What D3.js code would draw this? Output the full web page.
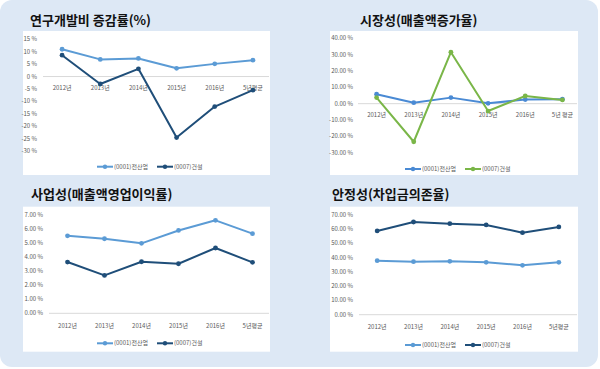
<!DOCTYPE html>
<html>
<head>
<meta charset="utf-8">
<script src="https://cdn.jsdelivr.net/npm/d3@7"></script>
<style>
  body { margin: 0; background: #fff; }
  svg { display: block; }
  text { font-family: "Noto Sans CJK KR", "Noto Sans", sans-serif; }
</style>
</head>
<body>
<div id="chart"></div>
<script>
// 데이터
const years = ['2012년', '2013년', '2014년', '2015년', '2016년', '5년평균'];
const years2 = ['2012년', '2013년', '2014년', '2015년', '2016년', '5년 평균'];
const seriesNames = ['(0001)전산업', '(0007)건설'];

const rndAll = [11.0, 6.9, 7.3, 3.3, 5.1, 6.6];
const rndConst = [8.6, -3.0, 3.1, -24.6, -12.1, -5.5];

const salesAll = [5.8, 0.6, 3.7, 0.2, 2.5, 2.7];
const salesConst = [3.7, -23.3, 31.5, -4.5, 4.7, 2.3];

const opAll = [5.52, 5.31, 4.98, 5.9, 6.62, 5.67];
const opConst = [3.65, 2.7, 3.67, 3.53, 4.65, 3.63];

const debtAll = [37.9, 37.2, 37.5, 36.8, 34.7, 36.8];
const debtConst = [58.8, 65.1, 63.9, 63.0, 57.6, 61.6];

const ticks1 = [15, 10, 5, 0, -5, -10, -15, -20, -25, -30];
const ticks2 = [40, 30, 20, 10, 0, -10, -20, -30];
const ticks3 = [7, 6, 5, 4, 3, 2, 1, 0];
const ticks4 = [70, 60, 50, 40, 30, 20, 10, 0];

const lightBlue = '#5b9bd5';
const navy = '#1f4e79';
const midBlue = '#4a8ad4';
const green = '#7ab648';

const W = 600, H = 369;
const svg = d3.select('#chart').append('svg').attr('width', W).attr('height', H);

// 배경 패널
svg.append('rect')
    .attr('x', 0).attr('y', 0).attr('width', 598).attr('height', 367)
    .attr('rx', 12).attr('fill', '#dde8f5');

const charts = [
    {
        title: '연구개발비 증감률(%)', titleX: 30, titleY: 25,
        box: [23, 31, 270, 175],
        cats: years, values: [rndAll, rndConst], colors: [lightBlue, navy],
        domain: [-30, 15], yRange: [151, 39.3], ticks: ticks1, fmt: d => d + ' %',
        xRange: [43, 272], labelX: 37, catY: 90, catAtZero: true, legendY: 166.7, legendX: 150
    },
    {
        title: '시장성(매출액증가율)', titleX: 360, titleY: 25,
        box: [330, 31, 578, 175],
        cats: years2, values: [salesAll, salesConst], colors: [midBlue, green],
        domain: [-30, 40], yRange: [152.7, 38.3], ticks: ticks2, fmt: d => d.toFixed(2) + ' %',
        xRange: [358, 581], labelX: 353, catY: 117, catAtZero: true, legendY: 169, legendX: 458
    },
    {
        title: '사업성(매출액영업이익률)', titleX: 31, titleY: 199,
        box: [23, 206.7, 270, 351.7],
        cats: years, values: [opAll, opConst], colors: [lightBlue, navy],
        domain: [0, 7], yRange: [313.3, 215], ticks: ticks3, fmt: d => d.toFixed(2) + ' %',
        xRange: [49, 271], labelX: 43, catY: 328, catAtZero: false, legendY: 343.3, legendX: 150
    },
    {
        title: '안정성(차입금의존율)', titleX: 332, titleY: 199,
        box: [330, 206.7, 578, 351.7],
        cats: years, values: [debtAll, debtConst], colors: [lightBlue, navy],
        domain: [0, 70], yRange: [314.7, 215], ticks: ticks4, fmt: d => d.toFixed(2) + ' %',
        xRange: [359, 577], labelX: 353, catY: 329, catAtZero: false, legendY: 345, legendX: 458
    }
];

charts.forEach(c => {
    const g = svg.append('g');
    const [bx0, by0, bx1, by1] = c.box;

    g.append('rect')
        .attr('x', bx0).attr('y', by0)
        .attr('width', bx1 - bx0).attr('height', by1 - by0)
        .attr('fill', '#fff');

    g.append('text')
        .attr('x', c.titleX).attr('y', c.titleY)
        .attr('font-size', 13).attr('font-weight', 'bold').attr('fill', '#111')
        .text(c.title);

    const x = d3.scaleBand().domain(c.cats).range(c.xRange);
    const y = d3.scaleLinear().domain(c.domain).range(c.yRange);

    // y축 라벨
    g.selectAll('.ytick')
        .data(c.ticks)
        .enter().append('text')
        .attr('x', c.labelX)
        .attr('y', d => y(d) + 2)
        .attr('text-anchor', 'end')
        .attr('font-size', 6)
        .attr('fill', '#595959')
        .text(c.fmt);

    // 0 기준선
    g.append('line')
        .attr('x1', c.xRange[0]).attr('x2', Math.min(c.xRange[1], bx1 - 1))
        .attr('y1', y(0)).attr('y2', y(0))
        .attr('stroke', '#d9d9d9').attr('stroke-width', 1);

    // x축 라벨
    g.selectAll('.xtick')
        .data(c.cats)
        .enter().append('text')
        .attr('x', d => x(d) + x.bandwidth() / 2)
        .attr('y', c.catY)
        .attr('text-anchor', 'middle')
        .attr('font-size', 6)
        .attr('fill', '#595959')
        .text(d => d);

    const line = d3.line()
        .x((d, i) => x(c.cats[i]) + x.bandwidth() / 2)
        .y(d => y(d));

    c.values.forEach((vals, si) => {
        g.append('path')
            .datum(vals)
            .attr('d', line)
            .attr('fill', 'none')
            .attr('stroke', c.colors[si])
            .attr('stroke-width', 2)
            .attr('stroke-linejoin', 'round');

        g.selectAll('.pt' + si)
            .data(vals)
            .enter().append('circle')
            .attr('cx', (d, i) => x(c.cats[i]) + x.bandwidth() / 2)
            .attr('cy', d => y(d))
            .attr('r', 2.4)
            .attr('fill', c.colors[si]);
    });

    // 범례
    const legendItems = [
        { name: seriesNames[0], color: c.colors[0], offset: -53 },
        { name: seriesNames[1], color: c.colors[1], offset: 7 }
    ];
    legendItems.forEach(it => {
        const lx = c.legendX + it.offset;
        g.append('line')
            .attr('x1', lx).attr('x2', lx + 16)
            .attr('y1', c.legendY).attr('y2', c.legendY)
            .attr('stroke', it.color).attr('stroke-width', 2);
        g.append('circle')
            .attr('cx', lx + 8).attr('cy', c.legendY).attr('r', 2.2)
            .attr('fill', it.color);
        g.append('text')
            .attr('x', lx + 17).attr('y', c.legendY + 2)
            .attr('font-size', 6).attr('fill', '#595959')
            .text(it.name);
    });
});
</script>
</body>
</html>
